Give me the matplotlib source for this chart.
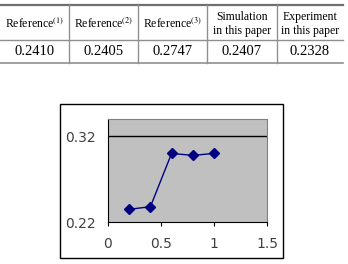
import matplotlib
matplotlib.use("Agg")
import matplotlib.pyplot as plt
from matplotlib.patches import Rectangle

plt.rcParams['mathtext.fontset'] = 'stix'

# table contents
headers = ["Reference$^{(1)}$", "Reference$^{(2)}$", "Reference$^{(3)}$",
           "Simulation\nin this paper", "Experiment\nin this paper"]
values = ["0.2410", "0.2405", "0.2747", "0.2407", "0.2328"]

# chart data
x_vals = [0.2, 0.4, 0.6, 0.8, 1.0]
y_vals = [0.2348, 0.2378, 0.2999, 0.2976, 0.2999]
x_ticks = [0, 0.5, 1, 1.5]
x_tick_labels = ["0", "0.5", "1", "1.5"]
y_ticks = [0.22, 0.32]
y_tick_labels = ["0.22", "0.32"]

W, H = 348, 264
fig = plt.figure(figsize=(W / 100, H / 100), dpi=100)

# overlay in pixel coordinates for the table and the chart frame
ov = fig.add_axes([0, 0, 1, 1])
ov.set_xlim(0, W)
ov.set_ylim(H, 0)
ov.axis("off")

col_edges = [0, 69, 138, 207, 277, 343]
y_top, y_mid, y_bot = 5, 40, 63
ov.plot([0, 343], [y_top, y_top], color="#707070", lw=1.6)
ov.plot([0, 343], [y_mid, y_mid], color="#909090", lw=1.0)
ov.plot([0, 343], [y_bot, y_bot], color="#909090", lw=1.2)
for xe in col_edges[1:-1]:
    ov.plot([xe, xe], [y_top, y_bot], color="#909090", lw=1.0)

for i in range(5):
    cx = (col_edges[i] + col_edges[i + 1]) / 2
    ov.text(cx, (y_top + y_mid) / 2 + 1.5, headers[i], ha="center", va="center",
            family="Liberation Serif", fontsize=8.5, linespacing=1.3)
    ov.text(cx, (y_mid + y_bot) / 2, values[i], ha="center", va="center",
            family="Liberation Serif", fontsize=10.5)

# chart outer frame
ov.add_patch(Rectangle((60, 104), 223, 154, facecolor="white",
                       edgecolor="black", lw=1.0))

ax = fig.add_axes([108 / W, 1 - 222 / H, (267 - 108) / W, (222 - 119) / H])
ax.set_facecolor("#c0c0c0")
ax.plot(x_vals, y_vals, color="#000080", lw=1.0, marker="D", markersize=5.5,
        markerfacecolor="#000080", markeredgecolor="#000080")
ax.axhline(0.32, color="black", lw=1.0, zorder=1)
ax.set_xlim(0, 1.5)
ax.set_ylim(0.22, 0.34)
ax.set_xticks(x_ticks)
ax.set_xticklabels(x_tick_labels)
ax.set_yticks(y_ticks)
ax.set_yticklabels(y_tick_labels)
ax.tick_params(length=3, width=0.8, labelsize=10, labelcolor="#404040")
ax.tick_params(axis="x", pad=8)
ax.tick_params(axis="y", pad=8.5, length=0)
for s in ["top", "right"]:
    ax.spines[s].set_color("#808080")
for s in ["left", "bottom"]:
    ax.spines[s].set_color("black")

fig.savefig("out.png", dpi=100)
